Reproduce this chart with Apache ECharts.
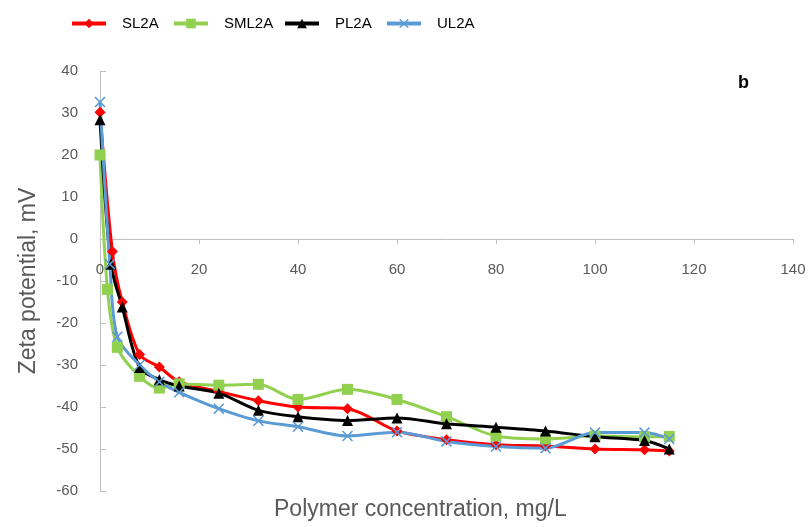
<!DOCTYPE html>
<html>
<head>
<meta charset="utf-8">
<script src="https://cdn.jsdelivr.net/npm/echarts@6/dist/echarts.min.js"></script>
<style>
  html, body { margin: 0; padding: 0; background: #fff; }
  #chart { width: 809px; height: 527px; }
</style>
</head>
<body>
<div id="chart"></div>
<script>
// Polymer concentration (mg/L) for each sample series
const concSL2A  = [0, 2.5, 4.5, 8, 12, 16, 24, 32, 40, 50, 60, 70, 80, 90, 100, 110, 115];
const concSML2A = [0, 1.5, 3.5, 8, 12, 16, 24, 32, 40, 50, 60, 70, 80, 90, 100, 110, 115];
const concPL2A  = [0, 2.2, 4.5, 8, 12, 16, 24, 32, 40, 50, 60, 70, 80, 90, 100, 110, 115];
const concUL2A  = [0, 2, 3.5, 8, 12, 16, 24, 32, 40, 50, 60, 70, 80, 90, 100, 110, 115];

// Zeta potential (mV)
const zetaSL2A  = [30.2, -3, -15, -27.5, -30.5, -34, -36.3, -38.5, -40, -40.4, -45.7, -47.8, -49, -49.3, -50, -50.2, -50.5];
const zetaSML2A = [20, -12, -25.8, -32.7, -35.5, -34.5, -34.8, -34.6, -38.2, -35.8, -38.2, -42.3, -46.9, -47.6, -46.9, -47.1, -47];
const zetaPL2A  = [28.4, -6, -16.2, -30.6, -33.5, -35, -36.7, -40.8, -42.3, -43.2, -42.6, -44, -44.8, -45.7, -47.1, -48, -50];
const zetaUL2A  = [32.6, -6, -23.3, -30, -34, -36.5, -40.4, -43.3, -44.7, -46.9, -46, -48.2, -49.4, -49.8, -46.1, -46.1, -47.6];

const seriesNames = ['SL2A', 'SML2A', 'PL2A', 'UL2A'];

const yMin = -60, yMax = 40, yStep = 10;
const xMin = 0, xMax = 140, xStep = 20;

const pairs = (xs, ys) => xs.map((x, i) => [x, ys[i]]);

// X-shaped marker outline
const crossPath = 'path://M2,0 L10,8 L18,0 L20,2 L12,10 L20,18 L18,20 L10,12 L2,20 L0,18 L8,10 L0,2 Z';

const axisGrey = '#bfbfbf';
const textGrey = '#595959';
const font = "'Liberation Sans', Arial, sans-serif";

// Plot area
const W = 809, H = 527;
const gridTop = 71, gridBottom = 36, gridLeft = 100, gridRight = 16;
const plotH = H - gridTop - gridBottom;
// shift the concentration axis up so it sits on the zero line
const zeroOffset = -plotH * (0 - yMin) / (yMax - yMin);

function lineSeries(name, data, color, symbol, size) {
  return {
    name, type: 'line', data,
    smooth: 0.3,
    symbol, symbolSize: size,
    lineStyle: { color, width: 3 },
    itemStyle: { color },
    emphasis: { disabled: true },
    animation: false
  };
}

// one legend block per series so each entry sits at its own spot
const legendLefts = [70, 172, 283, 385];
const legends = seriesNames.map((n, i) => ({
  top: 16, left: legendLefts[i], padding: 0,
  itemWidth: 34, itemHeight: 12,
  lineStyle: { width: 4 },
  textStyle: { fontFamily: font, fontSize: 15, color: '#000', padding: [0, 0, 0, 11] },
  data: [n]
}));

const chart = echarts.init(document.getElementById('chart'), null, { renderer: 'canvas' });
chart.setOption({
  backgroundColor: '#fff',
  animation: false,
  legend: legends,
  grid: { left: gridLeft, right: gridRight, top: gridTop, bottom: gridBottom, containLabel: false },
  xAxis: {
    type: 'value', min: xMin, max: xMax, interval: xStep,
    offset: zeroOffset,
    axisLine: { onZero: false, lineStyle: { color: axisGrey, width: 1 } },
    axisTick: { show: true, length: 5, lineStyle: { color: axisGrey } },
    axisLabel: { color: textGrey, fontFamily: font, fontSize: 15, margin: 23 },
    splitLine: { show: false }
  },
  yAxis: {
    type: 'value', min: yMin, max: yMax, interval: yStep,
    name: 'Zeta potential, mV', nameLocation: 'middle', nameGap: 60, nameRotate: 90,
    nameTextStyle: { color: textGrey, fontFamily: font, fontSize: 23 },
    axisLine: { show: true, lineStyle: { color: axisGrey, width: 1 } },
    axisTick: { show: true, inside: true, length: 6, lineStyle: { color: axisGrey } },
    axisLabel: { color: textGrey, fontFamily: font, fontSize: 15, margin: 22 },
    splitLine: { show: false }
  },
  graphic: [
    { type: 'text', left: 274, top: 498,
      style: { text: 'Polymer concentration, mg/L', fill: textGrey, font: "23px " + font } },
    { type: 'text', left: 738, top: 74,
      style: { text: 'b', fill: '#000', font: "bold 18px " + font } }
  ],
  series: [
    lineSeries('SL2A', pairs(concSL2A, zetaSL2A), '#ff0000', 'diamond', 11),
    lineSeries('SML2A', pairs(concSML2A, zetaSML2A), '#92d050', 'rect', 11),
    lineSeries('PL2A', pairs(concPL2A, zetaPL2A), '#000000', 'triangle', 11),
    lineSeries('UL2A', pairs(concUL2A, zetaUL2A), '#5b9bd5', crossPath, 11)
  ]
});
</script>
</body>
</html>
